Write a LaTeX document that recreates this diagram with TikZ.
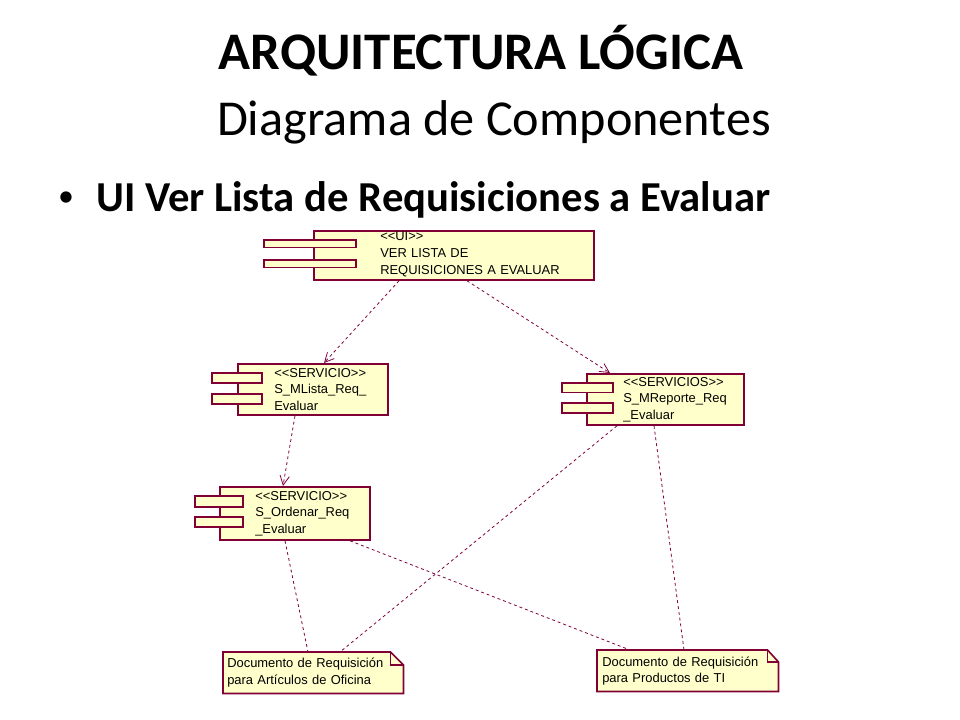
\documentclass[tikz,border=0pt]{standalone}
\usepackage{fontspec}
\setmainfont{Carlito}
\newfontfamily\umlfont{Liberation Sans}
\usetikzlibrary{arrows.meta,calc}
\definecolor{umlborder}{HTML}{800035}
\definecolor{umlline}{HTML}{800040}
\definecolor{umlfill}{HTML}{FFFFCC}
\tikzset{
  compbox/.style={draw=umlborder, fill=umlfill, line width=1.35pt, rectangle, inner sep=0pt, anchor=north west},
  portbox/.style={draw=umlborder, fill=umlfill, line width=1.35pt},
  notebox/.style={draw=umlborder, fill=umlfill, line width=1.2pt},
  anchorbox/.style={rectangle, inner sep=0pt, anchor=north west},
  lbl/.style={font=\umlfont\fontsize{9.7}{12.4}\selectfont, inner sep=0pt, anchor=base west, text width=220pt, align=left},
  dep/.style={draw=umlline, line width=0.6pt, dash pattern=on 2.2pt off 2.2pt, -{Straight Barb[length=7pt,width=7pt]}},
  link/.style={draw=umlline, line width=0.6pt, dash pattern=on 2.2pt off 2.2pt}
}
\begin{document}
\begin{tikzpicture}[x=0.75pt,y=-0.75pt]
\useasboundingbox (0,0) rectangle (960,720);

% titles
\node[font=\fontsize{39.6}{44}\selectfont\bfseries, anchor=base, inner sep=0pt] (title) at (481,70) {ARQUITECTURA LÓGICA};
\node[font=\fontsize{37.7}{42}\selectfont, anchor=base, inner sep=0pt] (subtitle) at (494,136) {Diagrama de Componentes};
\node[font=\fontsize{24}{28}\selectfont, anchor=base, inner sep=0pt] (bullet) at (66,207) {•};
\node[font=\fontsize{32}{36}\selectfont\bfseries, anchor=base west, inner sep=0pt] (item) at (96,212) {UI Ver Lista de Requisiciones a Evaluar};

% UI component
\node[compbox, minimum width=210pt, minimum height=36.75pt] (ui) at (313,230) {};
\draw[portbox] (264,240) rectangle (356,247.5);
\draw[portbox] (264,260) rectangle (356,267.5);
\node[lbl] (uit) at (380,241) {<<UI>>\\VER LISTA DE\\REQUISICIONES A EVALUAR};

% S_MLista
\node[compbox, minimum width=112.5pt, minimum height=38.25pt] (ml) at (237,363) {};
\draw[portbox] (212,373) rectangle (262,383);
\draw[portbox] (212,394) rectangle (262,404);
\node[lbl] (mlt) at (274,377) {<<SERVICIO>>\\S\_MLista\_Req\_\\Evaluar};

% S_Ordenar
\node[compbox, minimum width=112.5pt, minimum height=39.75pt] (ord) at (219,486) {};
\draw[portbox] (195,496) rectangle (243,507);
\draw[portbox] (195,517) rectangle (243,527);
\node[lbl] (ordt) at (255,500) {<<SERVICIO>>\\S\_Ordenar\_Req\\\_Evaluar};

% S_MReporte
\node[compbox, minimum width=117.75pt, minimum height=38.25pt] (mr) at (586,373) {};
\draw[portbox] (562,383) rectangle (613,392.5);
\draw[portbox] (562,403) rectangle (613,413);
\node[lbl] (mrt) at (623,386) {<<SERVICIOS>>\\S\_MReporte\_Req\\\_Evaluar};

% Documents
\node[anchorbox, minimum width=135pt, minimum height=30.75pt] (d1) at (223,652) {};
\draw[notebox] (d1.north west) -- ($(d1.north east)+(-13,0)$) -- ($(d1.north east)+(0,13)$) -- (d1.south east) -- (d1.south west) -- cycle;
\draw[umlborder, line width=0.8pt] ($(d1.north east)+(-13,0)$) -- ($(d1.north east)+(-13,13)$) -- ($(d1.north east)+(0,13)$);
\node[lbl] (d1t) at (227,667) {Documento de Requisición\\[0.6pt]para Artículos de Oficina};

\node[anchorbox, minimum width=135.75pt, minimum height=30.75pt] (d2) at (597,650) {};
\draw[notebox] (d2.north west) -- ($(d2.north east)+(-11,0)$) -- ($(d2.north east)+(0,12)$) -- (d2.south east) -- (d2.south west) -- cycle;
\draw[umlborder, line width=0.8pt] ($(d2.north east)+(-11,0)$) -- ($(d2.north east)+(-11,12)$) -- ($(d2.north east)+(0,12)$);
\node[lbl] (d2t) at (602,666) {Documento de Requisición\\para Productos de TI};

% connectors
\draw[dep] ($(ui.south west)+(86,0)$) -- ($(ml.north west)+(87,0)$);
\draw[dep] ($(ui.south west)+(154,0)$) -- ($(mr.north west)+(24,0)$);
\draw[dep] ($(ml.south west)+(58,0)$) -- ($(ord.north west)+(64,0)$);
\draw[link] ($(ord.south west)+(66,0)$) -- ($(d1.north west)+(85,0)$);
\draw[link] ($(ord.south west)+(131,0)$) -- ($(d2.north west)+(33,0)$);
\draw[link] ($(mr.south west)+(31,0)$) -- ($(d1.north west)+(117,0)$);
\draw[link] ($(mr.south west)+(68,0)$) -- ($(d2.north west)+(87,0)$);
\end{tikzpicture}
\end{document}
